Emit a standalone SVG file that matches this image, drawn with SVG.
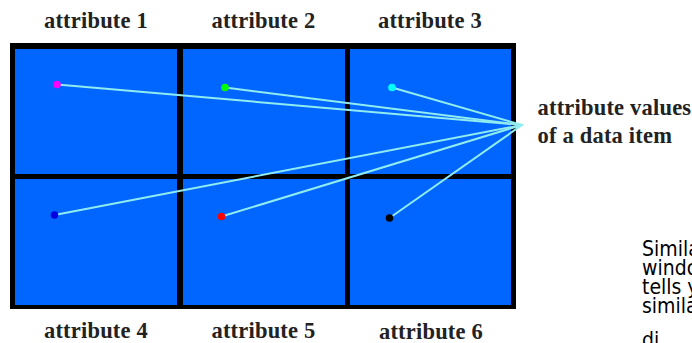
<svg xmlns="http://www.w3.org/2000/svg" width="692" height="343" viewBox="0 0 692 343">
<style>
.cell{fill:#0066ff;}
.lbl{font-family:"Liberation Serif","Times New Roman",serif;font-weight:bold;font-size:22.5px;fill:#222;letter-spacing:0.2px;}
.lblc{text-anchor:middle;}
.note{font-family:"DejaVu Sans Condensed","DejaVu Sans",sans-serif;font-size:21px;fill:#000;}
.conn{stroke:#90ecf0;stroke-width:2;fill:none;stroke-linecap:round;}
</style>
<rect width="692" height="343" fill="#ffffff"/>
<rect id="frame" x="10" y="43" width="506" height="266" fill="#000000"/>
<g id="cell1"><rect class="cell" x="15" y="49" width="162" height="125"/></g>
<g id="cell2"><rect class="cell" x="183" y="49" width="162" height="125"/></g>
<g id="cell3"><rect class="cell" x="350" y="49" width="161" height="125"/></g>
<g id="cell4"><rect class="cell" x="15" y="179" width="162" height="126"/></g>
<g id="cell5"><rect class="cell" x="183" y="179" width="162" height="126"/></g>
<g id="cell6"><rect class="cell" x="350" y="179" width="161" height="126"/></g>
<g id="connectors">
<line class="conn" x1="57" y1="84.5" x2="522" y2="125"/>
<line class="conn" x1="225" y1="87.5" x2="522" y2="125"/>
<line class="conn" x1="392" y1="87.5" x2="522" y2="125"/>
<line class="conn" x1="54.5" y1="215" x2="522" y2="125"/>
<line class="conn" x1="221.5" y1="216.5" x2="522" y2="125"/>
<line class="conn" x1="389.5" y1="218" x2="522" y2="125"/>
</g>
<g id="dots">
<circle cx="57" cy="84.5" r="3.8" fill="#ff00ff"/>
<circle cx="225" cy="87.5" r="3.8" fill="#00ff00"/>
<circle cx="392" cy="87.5" r="3.8" fill="#00ffff"/>
<circle cx="54.5" cy="215" r="3.8" fill="#0000e0"/>
<circle cx="221.5" cy="216.5" r="3.8" fill="#ff0000"/>
<circle cx="389.5" cy="218" r="3.8" fill="#000000"/>
</g>
<g id="labels">
<text class="lbl lblc" x="96" y="28">attribute 1</text>
<text class="lbl lblc" x="263.5" y="28">attribute 2</text>
<text class="lbl lblc" x="430" y="28">attribute 3</text>
<text class="lbl lblc" x="96" y="337.5">attribute 4</text>
<text class="lbl lblc" x="263.5" y="337.5">attribute 5</text>
<text class="lbl lblc" x="431" y="338.5">attribute 6</text>
<text class="lbl" x="537.5" y="115">attribute values</text>
<text class="lbl" x="537.5" y="143">of a data item</text>
</g>
<g id="note">
<text class="note" x="642" y="256">Simila</text>
<text class="note" x="642" y="275">windo</text>
<text class="note" x="642" y="294">tells y</text>
<text class="note" x="642" y="313.3">simila</text>
<text class="note" x="642" y="347">di</text>
</g>
</svg>
